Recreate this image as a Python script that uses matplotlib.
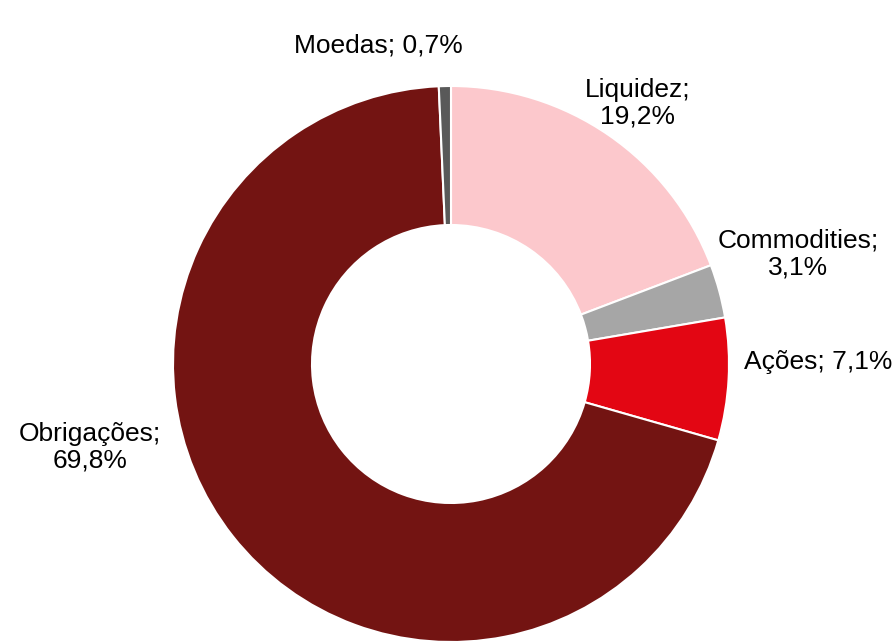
import matplotlib.pyplot as plt

plt.rcParams['font.family'] = ['Liberation Sans', 'DejaVu Sans']

# Data
categories = ['Liquidez', 'Commodities', 'Ações', 'Obrigações', 'Moedas']
values = [19.2, 3.1, 7.1, 69.8, 0.7]
colors = ['#FCC8CC', '#A6A6A6', '#E30613', '#731412', '#595959']

# label placement in pixel coords (x, y from top) and whether label wraps
label_pos = [(638, 103), (798, 254), (818, 362), (90, 447), (378, 45)]
label_wrap = [True, True, False, True, False]

W, H = 894, 641
fig = plt.figure(figsize=(W / 100, H / 100), dpi=100)
ax = fig.add_axes([0, 0, 1, 1])

cx, cy, r = 451, H - 364, 278
ax.pie(values, colors=colors, startangle=90, counterclock=False,
       center=(cx, cy), radius=r, frame=True,
       wedgeprops=dict(width=r * 0.5, edgecolor='white', linewidth=1.5))
ax.set_xlim(0, W)
ax.set_ylim(0, H)
ax.set_aspect('equal')
ax.axis('off')

for name, val, (px, py), wrap in zip(categories, values, label_pos, label_wrap):
    pct = f"{val:.1f}".replace('.', ',') + '%'
    sep = '\n' if wrap else ' '
    ax.text(px, H - py, f"{name};{sep}{pct}", ha='center', va='center',
            fontsize=19, color='#000000', linespacing=1.12)

fig.savefig('out.png', dpi=100)
